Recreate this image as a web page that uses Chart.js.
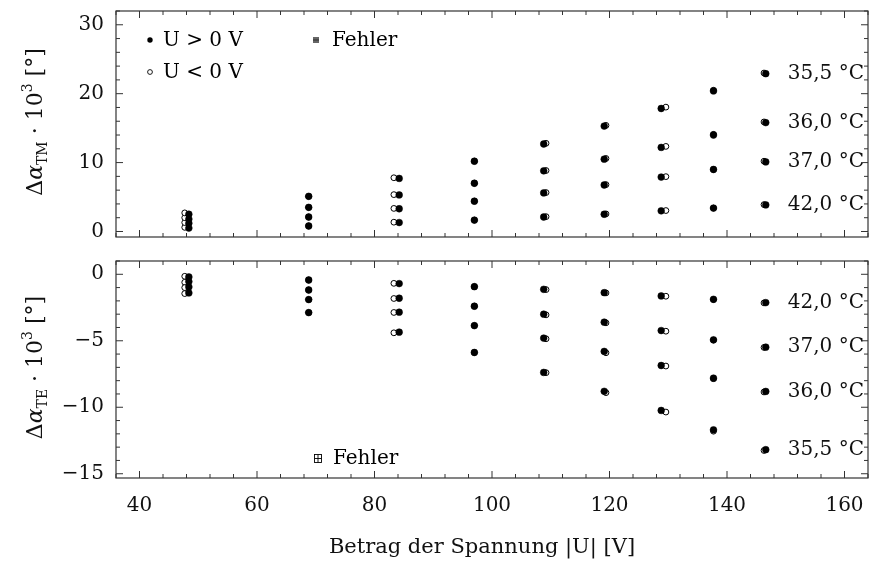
<!DOCTYPE html>
<html lang="de">
<head>
<meta charset="UTF-8">
<script src="https://cdn.jsdelivr.net/npm/chart.js"></script>
<title>Delta alpha TM / TE</title>
<style>
    body { margin: 0; background: #fff; }
    .panel { position: absolute; left: 0; width: 873px; }
    #top { top: 0; height: 250px; }
    #bottom { top: 250px; height: 312px; }
</style>
</head>
<body>
<div class="panel" id="top"><canvas id="tmChart"></canvas></div>
<div class="panel" id="bottom"><canvas id="teChart"></canvas></div>
<script>
// |U| in V, for U > 0 and U < 0
const uPos = [48.4, 68.8, 84.2, 97.0, 108.8, 119.1, 128.8, 137.7, 146.6];
const uNeg = [47.7, 68.8, 83.3, 97.0, 109.2, 119.4, 129.6, 137.7, 146.3];
const temps = ['35,5 °C', '36,0 °C', '37,0 °C', '42,0 °C'];

// delta alpha TM * 10^3 (U > 0)
const tmPos355 = [2.5, 5.1, 7.7, 10.2, 12.7, 15.3, 17.85, 20.4, 22.9];
const tmPos360 = [1.8, 3.5, 5.3, 7.0, 8.8, 10.5, 12.2, 14.0, 15.8];
const tmPos370 = [1.2, 2.1, 3.3, 4.4, 5.6, 6.75, 7.9, 9.0, 10.1];
const tmPos420 = [0.5, 0.8, 1.3, 1.65, 2.1, 2.5, 3.0, 3.4, 3.86];
// delta alpha TM * 10^3 (U < 0)
const tmNeg355 = [2.7, 5.1, 7.8, 10.2, 12.8, 15.4, 18.05, 20.5, 23.0];
const tmNeg360 = [2.0, 3.5, 5.35, 7.0, 8.85, 10.6, 12.35, 14.1, 15.9];
const tmNeg370 = [1.3, 2.1, 3.35, 4.4, 5.65, 6.8, 7.96, 9.0, 10.2];
const tmNeg420 = [0.6, 0.8, 1.35, 1.65, 2.15, 2.55, 3.04, 3.4, 3.9];

// delta alpha TE * 10^3 (U > 0)
const tePos355 = [-1.4, -2.88, -4.35, -5.88, -7.38, -8.8, -10.24, -11.7, -13.19];
const tePos360 = [-0.95, -1.9, -2.85, -3.86, -4.8, -5.8, -6.86, -7.81, -8.81];
const tePos370 = [-0.55, -1.18, -1.8, -2.4, -3.0, -3.6, -4.23, -4.93, -5.48];
const tePos420 = [-0.2, -0.43, -0.7, -0.93, -1.13, -1.38, -1.63, -1.88, -2.13];
// delta alpha TE * 10^3 (U < 0)
const teNeg355 = [-1.45, -2.88, -4.4, -5.88, -7.4, -8.9, -10.36, -11.8, -13.25];
const teNeg360 = [-1.0, -1.9, -2.87, -3.86, -4.85, -5.9, -6.9, -7.85, -8.85];
const teNeg370 = [-0.6, -1.18, -1.82, -2.4, -3.05, -3.65, -4.28, -4.95, -5.5];
const teNeg420 = [-0.15, -0.43, -0.68, -0.93, -1.15, -1.4, -1.65, -1.9, -2.15];

const xTicks = [40, 60, 80, 100, 120, 140, 160];
const tmTicks = [0, 10, 20, 30];
const teTicks = [0, -5, -10, -15];

const FONT = "'DejaVu Serif', 'Liberation Serif', serif";

function pts(xs, ys) {
    return xs.map((x, i) => ({ x: x, y: ys[i] }));
}

function makeDatasets(pos, neg) {
    const filled = pos.map((ys, i) => ({
        label: temps[i] + ' U>0',
        data: pts(uPos, ys),
        pointRadius: 3.4,
        pointBackgroundColor: '#000',
        pointBorderColor: '#000',
        pointBorderWidth: 0.5,
        showLine: false
    }));
    const open = neg.map((ys, i) => ({
        label: temps[i] + ' U<0',
        data: pts(uNeg, ys),
        pointRadius: 2.9,
        pointBackgroundColor: '#fff',
        pointBorderColor: '#000',
        pointBorderWidth: 1,
        showLine: false
    }));
    // filled first -> drawn on top
    return filled.concat(open);
}

function line(ctx, x1, y1, x2, y2) {
    ctx.beginPath();
    ctx.moveTo(x1, y1);
    ctx.lineTo(x2, y2);
    ctx.stroke();
}

// frame, inward ticks, axis titles, labels, legend
const decoPlugin = {
    id: 'deco',
    afterDraw(chart, args, opts) {
        const ctx = chart.ctx;
        const a = chart.chartArea;
        const xs = chart.scales.x, ys = chart.scales.y;
        ctx.save();
        ctx.strokeStyle = '#333';
        ctx.lineWidth = 1.2;
        ctx.strokeRect(a.left, a.top, a.right - a.left, a.bottom - a.top);

        ctx.lineWidth = 1;
        for (let k = Math.ceil(xs.min / 4); k * 4 <= xs.max; k++) {
            const v = k * 4;
            const px = xs.getPixelForValue(v);
            const len = xTicks.includes(v) ? 7 : 4;
            line(ctx, px, a.top, px, a.top + len);
            line(ctx, px, a.bottom, px, a.bottom - len);
        }
        const st = opts.yMinor;
        for (let k = Math.ceil(ys.min / st); k * st <= ys.max; k++) {
            const v = k * st;
            const py = ys.getPixelForValue(v);
            const len = opts.yMajor.includes(v) ? 7 : 4;
            line(ctx, a.left, py, a.left + len, py);
            line(ctx, a.right, py, a.right - len, py);
        }

        // y axis title, rotated
        ctx.fillStyle = '#111';
        const parts = [
            { t: 'Δ', f: '22px ' + FONT, dy: 0 },
            { t: 'α', f: 'italic 22px ' + FONT, dy: 0 },
            { t: opts.sub, f: '14px ' + FONT, dy: 5 },
            { t: ' · 10', f: '22px ' + FONT, dy: 0 },
            { t: '3', f: '14px ' + FONT, dy: -10 },
            { t: ' [°]', f: '22px ' + FONT, dy: 0 }
        ];
        let w = 0;
        parts.forEach(p => { ctx.font = p.f; p.w = ctx.measureText(p.t).width; w += p.w; });
        ctx.save();
        ctx.translate(42, (a.top + a.bottom) / 2 - 2);
        ctx.rotate(-Math.PI / 2);
        ctx.textBaseline = 'alphabetic';
        ctx.textAlign = 'left';
        let cx = -w / 2;
        parts.forEach(p => { ctx.font = p.f; ctx.fillText(p.t, cx, p.dy); cx += p.w; });
        ctx.restore();

        // x axis title (bottom panel only)
        if (opts.xTitle) {
            ctx.font = '21px ' + FONT;
            ctx.textAlign = 'center';
            ctx.textBaseline = 'alphabetic';
            ctx.fillText(opts.xTitle, 482, a.bottom + 75);
        }

        // temperature labels next to last points
        ctx.font = '20px ' + FONT;
        ctx.textBaseline = 'middle';
        ctx.textAlign = 'left';
        for (let i = 0; i < temps.length; i++) {
            const d = chart.data.datasets[i].data;
            const last = d[d.length - 1];
            ctx.fillText(temps[i], xs.getPixelForValue(last.x) + 22, ys.getPixelForValue(last.y));
        }

        // legend
        ctx.fillStyle = '#000';
        ctx.strokeStyle = '#000';
        if (opts.legend === 'top') {
            ctx.beginPath(); ctx.arc(150, 40, 2.7, 0, 2 * Math.PI); ctx.fill();
            ctx.beginPath(); ctx.arc(150, 72, 2.4, 0, 2 * Math.PI); ctx.lineWidth = 0.9; ctx.stroke();
            ctx.fillText('U > 0 V', 163, 41);
            ctx.fillText('U < 0 V', 163, 73);
            ctx.fillStyle = '#666';
            ctx.fillRect(313, 37, 6, 6);
            ctx.strokeStyle = '#222';
            ctx.lineWidth = 0.8;
            line(ctx, 313, 40, 319, 40);
            ctx.fillStyle = '#000';
            ctx.fillText('Fehler', 332, 41);
        } else {
            ctx.lineWidth = 0.9;
            ctx.strokeRect(314.5, 204.5, 7, 8);
            line(ctx, 314.5, 208.5, 321.5, 208.5);
            line(ctx, 318, 204.5, 318, 212.5);
            ctx.fillText('Fehler', 333, 209);
        }
        ctx.restore();
    }
};

function noPad(s) {
    s.paddingTop = 0;
    s.paddingBottom = 0;
    s.paddingLeft = 0;
    s.paddingRight = 0;
}

function makeChart(id, datasets, yMin, yMax, yTicks, yMinor, sub, legend, showX) {
    return new Chart(document.getElementById(id), {
        type: 'scatter',
        data: { datasets: datasets },
        options: {
            responsive: true,
            maintainAspectRatio: false,
            animation: false,
            layout: { padding: { left: 0, right: 4, top: 11, bottom: showX ? 0 : 13 } },
            plugins: {
                legend: { display: false },
                tooltip: { enabled: false },
                deco: {
                    yMinor: yMinor, yMajor: yTicks, sub: sub, legend: legend,
                    xTitle: showX ? 'Betrag der Spannung |U| [V]' : null
                }
            },
            scales: {
                x: {
                    type: 'linear',
                    min: 36,
                    max: 164,
                    display: showX,
                    grid: { display: false, drawTicks: false },
                    border: { display: false },
                    afterBuildTicks: s => { s.ticks = xTicks.map(v => ({ value: v })); },
                    afterFit: s => { if (showX) s.height = 84; noPad(s); },
                    ticks: { padding: 16, color: '#111', font: { family: FONT, size: 20 } }
                },
                y: {
                    min: yMin,
                    max: yMax,
                    grid: { display: false, drawTicks: false },
                    border: { display: false },
                    afterBuildTicks: s => { s.ticks = yTicks.map(v => ({ value: v })); },
                    afterFit: s => { s.width = 116; noPad(s); },
                    ticks: {
                        padding: 12,
                        color: '#111',
                        font: { family: FONT, size: 20 },
                        callback: v => String(v).replace('-', '−')
                    }
                }
            }
        },
        plugins: [decoPlugin]
    });
}

makeChart('tmChart',
    makeDatasets([tmPos355, tmPos360, tmPos370, tmPos420], [tmNeg355, tmNeg360, tmNeg370, tmNeg420]),
    -0.8, 32, tmTicks, 2, 'TM', 'top', false);

makeChart('teChart',
    makeDatasets([tePos355, tePos360, tePos370, tePos420], [teNeg355, teNeg360, teNeg370, teNeg420]),
    -15.32, 1.0, teTicks, 1, 'TE', 'bottom', true);
</script>
</body>
</html>
